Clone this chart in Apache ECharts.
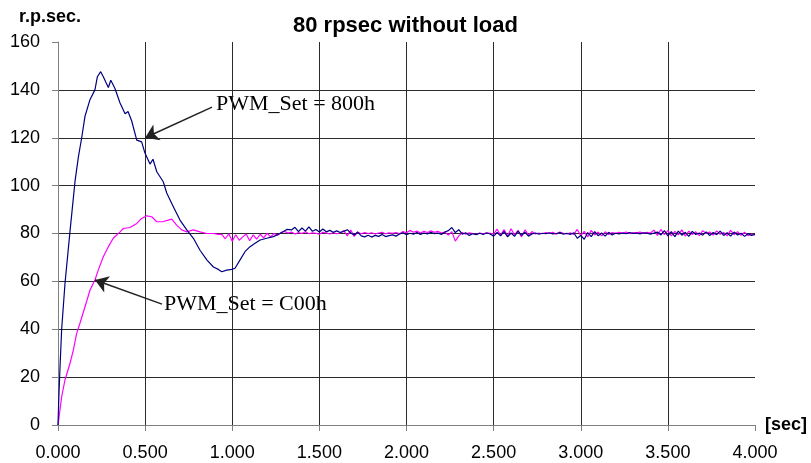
<!DOCTYPE html>
<html>
<head>
<meta charset="utf-8">
<script src="https://cdn.jsdelivr.net/npm/echarts@6/dist/echarts.min.js"></script>
<style>
html,body{margin:0;padding:0;background:#fff;}
#chart{width:811px;height:463px;}
</style>
</head>
<body>
<div id="chart"></div>
<script>
// ---- data ----
const titleText = '80 rpsec without load';
const yName = 'r.p.sec.';
const xName = '[sec]';
const xTicks = [0, 0.5, 1, 1.5, 2, 2.5, 3, 3.5, 4];
const yTicks = [0, 20, 40, 60, 80, 100, 120, 140, 160];

// PWM_Set = 800h (blue) — transient part
const blueT = [0, 0.005, 0.012, 0.021, 0.040, 0.069, 0.098, 0.117, 0.136, 0.155, 0.184, 0.212, 0.226, 0.245, 0.260, 0.276, 0.289, 0.303, 0.327, 0.356, 0.385, 0.402, 0.423, 0.452, 0.480, 0.499, 0.528, 0.545, 0.567, 0.604, 0.624, 0.662, 0.700, 0.739, 0.777, 0.815, 0.854, 0.892, 0.920, 0.940, 0.968, 0.997, 1.016, 1.045, 1.073, 1.102, 1.131, 1.160, 1.198, 1.236, 1.274, 1.313];
const blueV = [0, 12, 25, 40, 59, 81, 102, 112, 120, 129, 136, 140, 145.5, 147.6, 145.5, 143, 141, 144, 140.6, 134.5, 130, 131, 127, 119, 118.3, 113.6, 109, 111, 105.8, 101.6, 96.9, 91.2, 85.6, 81.5, 78, 73, 69, 66, 65, 64, 64.7, 65, 65.5, 69, 72.4, 74.5, 75.9, 77.3, 78, 78.7, 80, 81.7];
// blue — settled part, sampled every 0.02 s from 1.34 s
const blueSteadyStart = 1.34;
const blueSteady = [
  81.5, 82.6, 80.8, 82.3, 81.0, 82.8, 80.9, 81.7, 80.6, 81.9,
  80.7, 81.3, 80.5, 81.1, 80.4, 80.9, 81.6, 80.2, 79.4, 80.6,
  79.0, 78.6, 79.3, 78.5, 79.2, 78.8, 79.6, 78.7, 79.1, 79.4,
  78.9, 79.8, 80.3, 79.5, 80.1, 79.7, 80.4, 79.6, 80.2, 79.8,
  80.5, 79.9, 80.2, 79.6, 80.6, 81.2, 82.5, 80.4, 81.6, 79.7,
  80.3, 79.2, 79.9, 79.5, 80.1, 79.6, 80.2, 79.8, 78.9, 80.4,
  79.0, 80.9, 78.6, 80.2, 78.8, 81.0, 79.2, 80.5, 78.9, 79.8,
  80.2, 79.7, 80.1, 79.9, 80.3, 79.8, 80.0, 80.4, 79.7, 80.1,
  79.6, 80.3, 78.0, 79.2, 77.6, 80.4, 78.7, 80.8, 79.1, 80.2,
  78.9, 80.5, 79.4, 80.1, 79.8, 80.2, 79.9, 80.4, 80.0, 80.2,
  79.8, 80.3, 80.1, 79.7, 80.2, 80.6, 79.4, 81.2, 79.0, 80.8,
  78.7, 81.0, 79.3, 80.5, 78.8, 80.9, 79.6, 80.2, 79.3, 80.7,
  79.1, 80.4, 79.5, 81.0, 79.2, 80.3, 78.9, 80.6, 79.4, 80.1,
  78.8, 79.9, 79.2, 79.6
];

// PWM_Set = C00h (magenta) — transient part
const magT = [0, 0.002, 0.021, 0.040, 0.069, 0.088, 0.107, 0.126, 0.155, 0.184, 0.212, 0.231, 0.260, 0.289, 0.317, 0.356, 0.375, 0.413, 0.452, 0.480, 0.509, 0.538, 0.567, 0.604, 0.633, 0.653, 0.681, 0.710, 0.739, 0.777, 0.815, 0.854, 0.892, 0.920];
const magV = [0, 1, 11.8, 18.8, 25.8, 31.3, 38.3, 42.5, 49.4, 56.4, 60.6, 64.7, 70.3, 74.5, 78, 80.7, 82.1, 82.5, 84.2, 86.3, 87.4, 87, 84.9, 85, 85.6, 86, 83.5, 81.5, 80.7, 81.5, 80.7, 80, 80, 79.6];
// magenta — settled part, sampled every 0.02 s from 0.94 s
const magSteadyStart = 0.94;
const magSteady = [
  79.6, 77.8, 79.9, 76.8, 79.5, 77.2, 78.6, 79.8, 77.0, 79.4,
  77.6, 79.7, 78.2, 80.1, 78.6, 80.0, 79.3, 80.4, 80.9, 80.2,
  80.6, 79.8, 80.4, 80.0, 80.7, 79.9, 80.3, 80.1, 79.7, 80.5,
  80.2, 79.8, 80.4, 79.9, 80.3, 81.2, 79.0, 81.4, 78.8, 80.6,
  79.9, 80.4, 80.0, 80.3, 79.8, 80.2, 80.5, 79.9, 80.3, 80.1,
  80.4, 79.9, 80.8, 80.3, 81.3, 80.5, 81.0, 80.2, 80.9, 80.4,
  81.1, 80.5, 80.9, 80.2, 80.6, 79.3, 80.8, 76.8, 79.0, 80.4,
  79.7, 80.3, 80.0, 79.6, 80.2, 79.9, 80.3, 80.1, 79.8, 81.8,
  79.2, 81.6, 79.0, 82.0, 79.4, 81.3, 78.6, 81.5, 79.3, 80.8,
  79.8, 80.2, 79.9, 80.4, 80.0, 80.5, 79.7, 80.6, 80.1, 79.8,
  80.3, 79.6, 81.7, 79.1, 80.9, 78.6, 81.3, 79.4, 80.6, 79.0,
  80.7, 79.6, 80.4, 80.1, 80.5, 80.2, 80.6, 80.0, 80.4, 80.3,
  80.6, 80.1, 80.5, 80.2, 81.4, 79.2, 81.7, 79.5, 81.2, 79.0,
  80.9, 79.4, 81.5, 78.9, 81.0, 79.6, 80.7, 79.1, 81.2, 80.0,
  80.6, 79.3, 81.1, 79.7, 80.4, 79.0, 81.3, 79.5, 80.8, 79.2,
  80.5, 79.1, 79.8, 79.4
];
const sampleStep = 0.02;

// annotations: [text, arrow start (t, v), arrow tip (t, v)]
const note800 = {text: 'PWM_Set = 800h', from: [0.884, 132.8], to: [0.5, 120]};
const noteC00 = {text: 'PWM_Set = C00h', from: [0.597, 50.5], to: [0.212, 60.6]};

// ---- build ----
function build(ts, vs, start, steady) {
  const d = ts.map((t, i) => [t, vs[i]]);
  steady.forEach((v, i) => d.push([+(start + i * sampleStep).toFixed(3), v]));
  return d;
}
const blueData = build(blueT, blueV, blueSteadyStart, blueSteady);
const magData = build(magT, magV, magSteadyStart, magSteady);

const chart = echarts.init(document.getElementById('chart'), null, {renderer: 'canvas'});
const gridCol = '#2a2a2a';
const axisCol = '#808080';
chart.setOption({
  animation: false,
  backgroundColor: '#ffffff',
  title: {
    text: titleText, left: 'center', top: 10,
    textStyle: {fontFamily: 'Liberation Sans', fontWeight: 'bold', fontSize: 22, color: '#000'}
  },
  grid: {left: 58, right: 56, top: 42, bottom: 38, containLabel: false},
  xAxis: {
    type: 'value', min: xTicks[0], max: xTicks[xTicks.length - 1], interval: 0.5,
    name: xName, nameLocation: 'end', nameGap: 10,
    nameTextStyle: {fontFamily: 'Liberation Sans', fontWeight: 'bold', fontSize: 18, color: '#000', verticalAlign: 'middle'},
    axisLine: {show: true, lineStyle: {color: axisCol, width: 1}},
    axisTick: {show: true, inside: false, length: 6, lineStyle: {color: axisCol}},
    axisLabel: {margin: 19, fontFamily: 'Liberation Sans', fontSize: 18, color: '#000',
      formatter: v => v.toFixed(3)},
    splitLine: {show: true, showMinLine: false, showMaxLine: false, lineStyle: {color: gridCol, width: 1}}
  },
  yAxis: {
    type: 'value', min: yTicks[0], max: yTicks[yTicks.length - 1], interval: 20,
    name: yName, nameLocation: 'end', nameGap: 16,
    nameTextStyle: {fontFamily: 'Liberation Sans', fontWeight: 'bold', fontSize: 18, color: '#000', align: 'center', padding: [0, 16, 0, 0]},
    axisLine: {show: true, lineStyle: {color: axisCol, width: 1}},
    axisTick: {show: true, inside: false, length: 6, lineStyle: {color: axisCol}},
    axisLabel: {margin: 18, fontFamily: 'Liberation Sans', fontSize: 18, color: '#000'},
    splitLine: {show: true, showMinLine: false, showMaxLine: false, lineStyle: {color: gridCol, width: 1}}
  },
  series: [
    {
      name: 'PWM_Set = 800h', type: 'line', data: blueData, showSymbol: false, symbol: 'none',
      lineStyle: {color: '#000080', width: 1.2}, z: 3,
      markLine: {
        silent: true, symbol: ['none', 'arrow'], symbolSize: 13,
        lineStyle: {color: '#222', width: 1.5, type: 'solid'},
        itemStyle: {color: '#222'},
        label: {show: false},
        data: [
          [{coord: note800.from}, {coord: note800.to}],
          [{coord: noteC00.from}, {coord: noteC00.to}]
        ]
      }
    },
    {
      name: 'PWM_Set = C00h', type: 'line', data: magData, showSymbol: false, symbol: 'none',
      lineStyle: {color: '#ff00ff', width: 1.2}, z: 2
    }
  ],
  graphic: [
    {type: 'text', left: 216, top: 93, style: {text: note800.text, font: '22px "Liberation Serif"', fill: '#000'}},
    {type: 'text', left: 164, top: 293, style: {text: noteC00.text, font: '22px "Liberation Serif"', fill: '#000'}}
  ]
});
</script>
</body>
</html>
